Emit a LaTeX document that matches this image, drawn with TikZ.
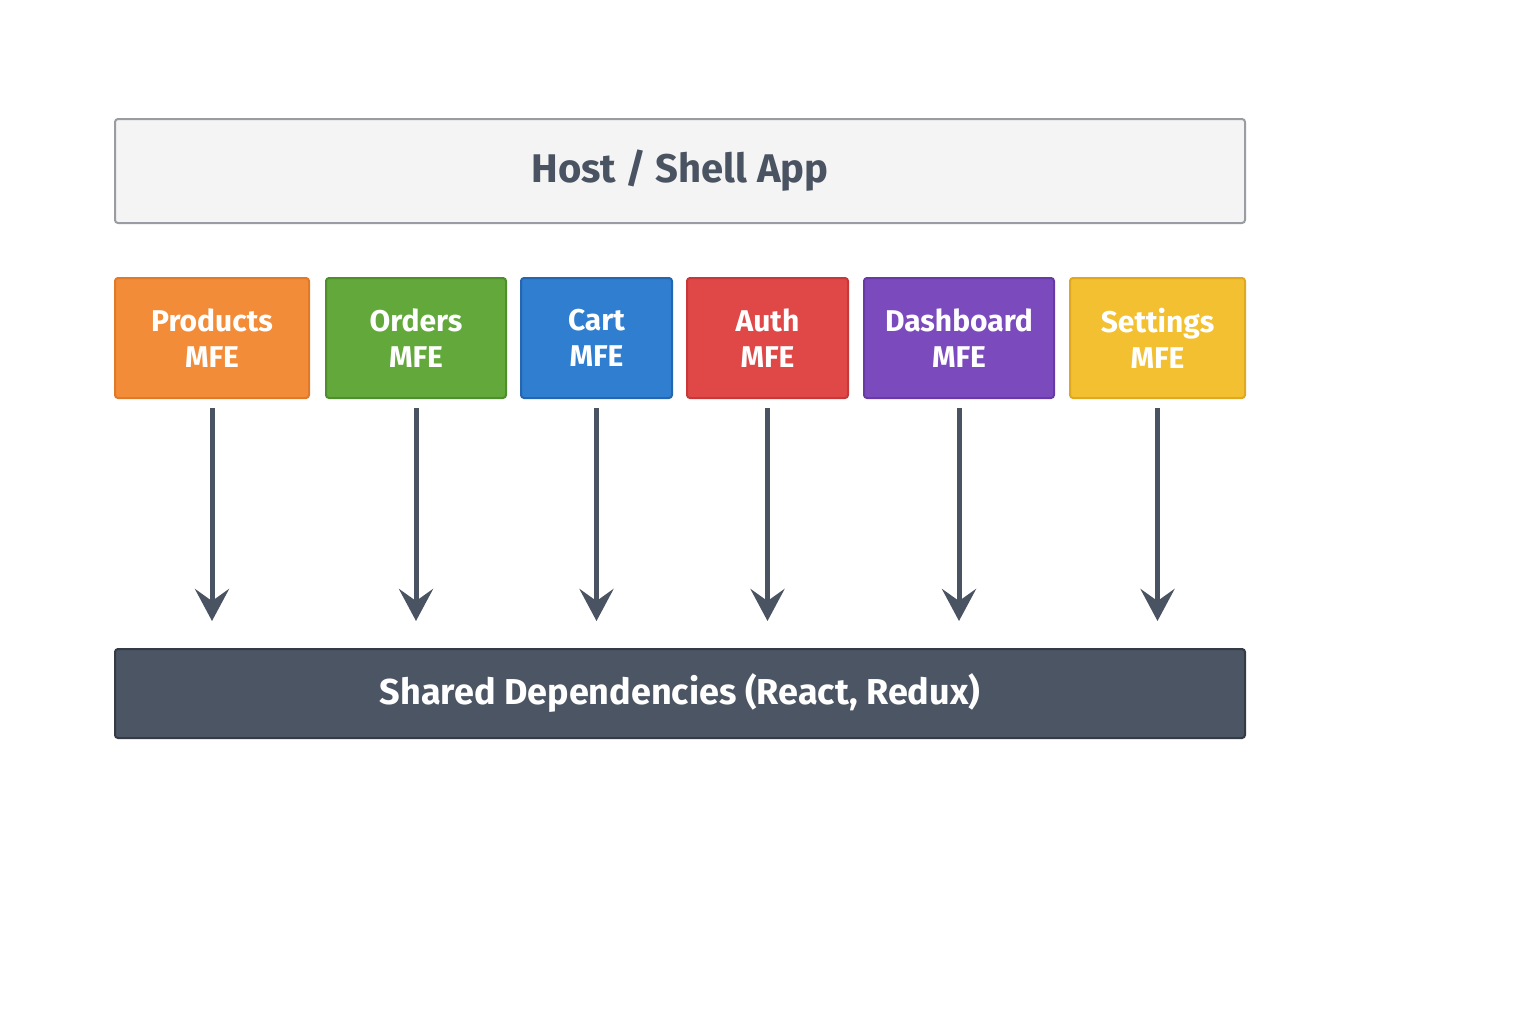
\documentclass[tikz,border=0pt]{standalone}
\usepackage{fontspec}
\setmainfont{Fira Sans}
\usetikzlibrary{positioning,arrows.meta}
\definecolor{ink}{HTML}{4A5361}
\definecolor{hostfill}{HTML}{F4F4F4}
\definecolor{hostline}{HTML}{9A9CA3}
\definecolor{shared}{HTML}{4B5563}
\definecolor{sharedline}{HTML}{343B45}
\definecolor{orangef}{HTML}{F28C38}\definecolor{oranged}{HTML}{E07A28}
\definecolor{greenf}{HTML}{62A83A}\definecolor{greend}{HTML}{4E8F2C}
\definecolor{bluef}{HTML}{2F7ECF}\definecolor{blued}{HTML}{2466B0}
\definecolor{redf}{HTML}{E04848}\definecolor{redd}{HTML}{C83838}
\definecolor{purplef}{HTML}{7B4BBE}\definecolor{purpled}{HTML}{673AA6}
\definecolor{yellowf}{HTML}{F2C030}\definecolor{yellowd}{HTML}{E0A820}
\tikzset{
  box/.style={draw, line width=1pt, rounded corners=1.5pt, inner sep=0pt, font=\bfseries, align=center},
  mfe/.style={box, text=white, minimum height=60pt, font=\fontsize{15}{18}\selectfont\bfseries},
  dep/.style={draw=ink, line width=2.5pt, -{Stealth[width=17pt,length=16pt,inset=6pt]}, shorten <=4.5pt, shorten >=13.5pt}
}
\begin{document}
\begin{tikzpicture}[x=0.5pt,y=-0.5pt]
  \useasboundingbox[fill=white] (0,0) rectangle (1536,1024);
  \node[box, fill=hostfill, draw=hostline, text=ink, minimum width=565pt, minimum height=52pt, font=\fontsize{20}{24}\selectfont\bfseries] (host) at (680,171) {Host / Shell App};
  \node[mfe, fill=orangef, draw=oranged, minimum width=97pt] (products) at (212,338) {Products\\MFE};
  \node[mfe, fill=greenf, draw=greend, minimum width=90pt] (orders) at (416,338) {Orders\\MFE};
  \node[mfe, fill=bluef, draw=blued, minimum width=75.5pt] (cart) at (596.5,338) {Cart\\MFE};
  \node[mfe, fill=redf, draw=redd, minimum width=80.5pt] (auth) at (767.5,338) {Auth\\MFE};
  \node[mfe, fill=purplef, draw=purpled, minimum width=95pt] (dash) at (959,338) {Dashboard\\MFE};
  \node[mfe, fill=yellowf, draw=yellowd, minimum width=87.5pt] (settings) at (1157.5,338) {Settings\\MFE};
  \node[box, fill=shared, draw=sharedline, text=white, minimum width=565pt, minimum height=44.5pt, font=\fontsize{18}{22}\selectfont\bfseries] (deps) at (680,693.5) {Shared Dependencies (React, Redux)};
  \foreach \m in {products,orders,cart,auth,dash,settings}
    \draw[dep] (\m.south) -- (\m.south |- deps.north);
\end{tikzpicture}
\end{document}
